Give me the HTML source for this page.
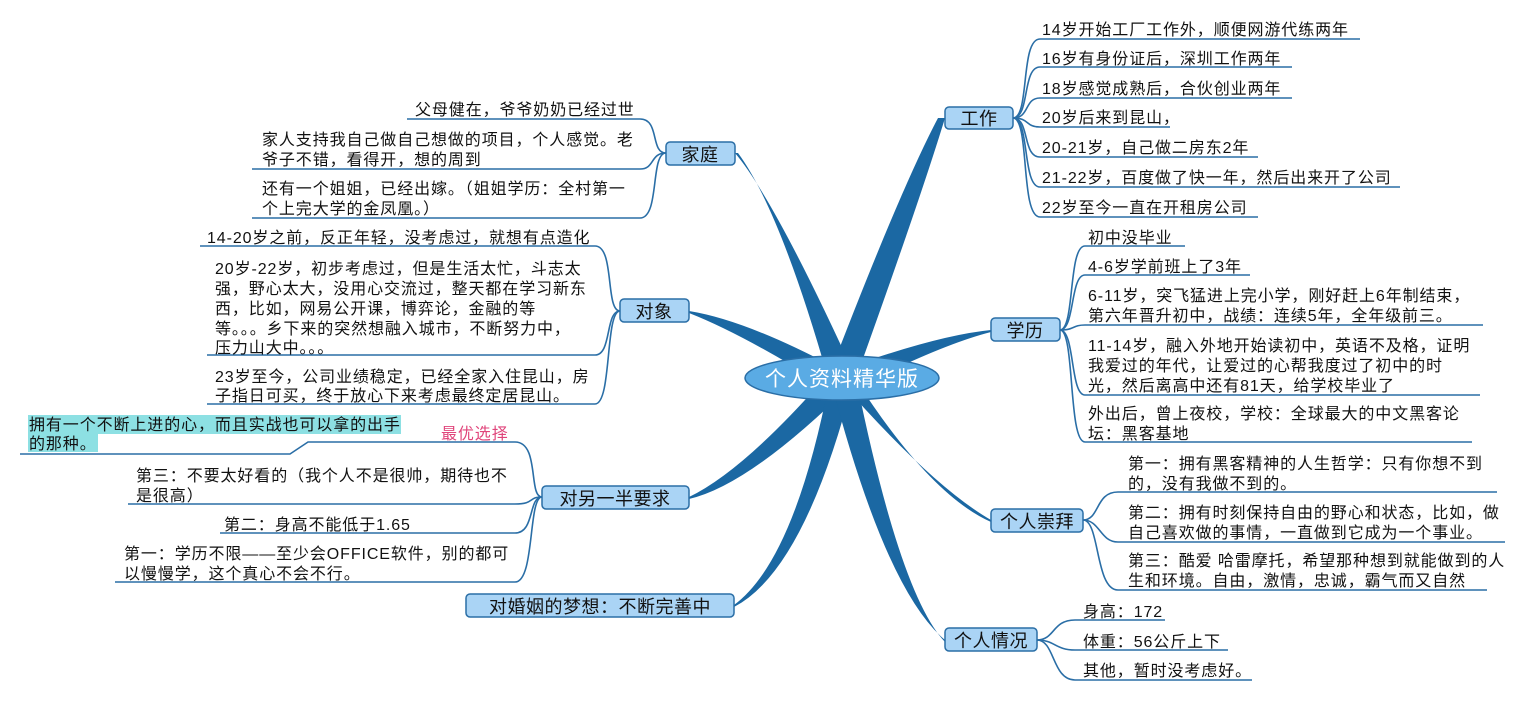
<!DOCTYPE html>
<html><head><meta charset="utf-8"><style>
body{margin:0;background:#fff;width:1538px;height:701px;overflow:hidden}
svg{display:block}
text{font-family:"Liberation Sans","Noto Sans CJK SC",sans-serif;font-size:16px;letter-spacing:0.9px;fill:#111}
.t{font-size:18px;letter-spacing:0.5px}
.ln{stroke:#2a6ea6;stroke-width:1.6;fill:none}
.nd{fill:#aad4f5;stroke:#2a6ea6;stroke-width:1.5}
.br{fill:#1b68a3}
</style></head><body>
<svg width="1538" height="701" viewBox="0 0 1538 701">
<path class="br" d="M828,378 Q900,190 938,118 L945,118 Q920,200 856,378Z"/>
<path class="br" d="M828,378 Q780,210 738,153 L735,153 Q775,200 856,378Z"/>
<path class="br" d="M832,366 Q745,320 689,311 L689,313 Q745,335 832,390Z"/>
<path class="br" d="M852,366 Q940,335 991,330 L991,332 Q940,345 852,390Z"/>
<path class="br" d="M830,372 Q745,470 689,497 L689,499 Q750,485 852,384Z"/>
<path class="br" d="M832,372 Q930,485 991,520 L991,522 Q930,495 856,380Z"/>
<path class="br" d="M830,378 Q795,560 734,605 L734,607 Q805,570 854,378Z"/>
<path class="br" d="M830,378 Q885,590 945,640 L945,642 Q900,595 856,378Z"/>
<ellipse cx="842" cy="378" rx="97" ry="22" fill="#5aabe4" stroke="#2a6ea6" stroke-width="1.5"/>
<text x="842" y="386" text-anchor="middle" style="font-size:21px;fill:#fff;letter-spacing:1px">个人资料精华版</text>

<g class="ln">
<path d="M1013,118 C1030,118 1020,39 1040,39 H1360"/>
<path d="M1013,118 C1030,118 1022,67 1040,67 H1292"/>
<path d="M1013,118 C1030,118 1024,98 1040,98 H1292"/>
<path d="M1013,118 C1030,118 1025,127 1040,127 H1170"/>
<path d="M1013,118 C1030,118 1022,157 1040,157 H1258"/>
<path d="M1013,118 C1030,118 1022,187 1040,187 H1400"/>
<path d="M1013,118 C1030,118 1020,217 1040,217 H1258"/>
</g>
<rect class="nd" x="945" y="107" width="68" height="22" rx="4"/>
<text class="t" x="979" y="125" text-anchor="middle">工作</text>
<text x="1042" y="35">14岁开始工厂工作外，顺便网游代练两年</text>
<text x="1042" y="64">16岁有身份证后，深圳工作两年</text>
<text x="1042" y="94">18岁感觉成熟后，合伙创业两年</text>
<text x="1042" y="123">20岁后来到昆山，</text>
<text x="1042" y="153">20-21岁，自己做二房东2年</text>
<text x="1042" y="183">21-22岁，百度做了快一年，然后出来开了公司</text>
<text x="1042" y="213">22岁至今一直在开租房公司</text>

<g class="ln">
<path d="M1060,330 C1075,330 1068,246 1085,246 H1185"/>
<path d="M1060,330 C1075,330 1070,275 1085,275 H1250"/>
<path d="M1060,330 C1075,330 1072,325 1085,325 H1483"/>
<path d="M1060,330 C1075,330 1070,395 1085,395 H1480"/>
<path d="M1060,330 C1075,330 1068,442 1085,442 H1472"/>
</g>
<rect class="nd" x="991" y="318" width="69" height="23" rx="4"/>
<text class="t" x="1025" y="337" text-anchor="middle">学历</text>
<text x="1088" y="243">初中没毕业</text>
<text x="1088" y="272">4-6岁学前班上了3年</text>
<text x="1088" y="301">6-11岁，突飞猛进上完小学，刚好赶上6年制结束，</text>
<text x="1088" y="321">第六年晋升初中，战绩：连续5年，全年级前三。</text>
<text x="1088" y="351">11-14岁，融入外地开始读初中，英语不及格，证明</text>
<text x="1088" y="371">我爱过的年代，让爱过的心帮我度过了初中的时</text>
<text x="1088" y="391">光，然后离高中还有81天，给学校毕业了</text>
<text x="1088" y="419">外出后，曾上夜校，学校：全球最大的中文黑客论</text>
<text x="1088" y="439">坛：黑客基地</text>

<g class="ln">
<path d="M1083,520 C1100,520 1095,492 1118,492 H1497"/>
<path d="M1083,520 C1100,520 1100,542 1118,542 H1505"/>
<path d="M1083,520 C1100,520 1095,590 1118,590 H1487"/>
</g>
<rect class="nd" x="991" y="509" width="92" height="23" rx="4"/>
<text class="t" x="1037" y="528" text-anchor="middle">个人崇拜</text>
<text x="1128" y="469">第一：拥有黑客精神的人生哲学：只有你想不到</text>
<text x="1128" y="489">的，没有我做不到的。</text>
<text x="1128" y="518">第二：拥有时刻保持自由的野心和状态，比如，做</text>
<text x="1128" y="538">自己喜欢做的事情，一直做到它成为一个事业。</text>
<text x="1128" y="566">第三：酷爱 哈雷摩托，希望那种想到就能做到的人</text>
<text x="1128" y="586">生和环境。自由，激情，忠诚，霸气而又自然</text>

<g class="ln">
<path d="M1037,640 C1055,640 1052,620 1075,620 H1165"/>
<path d="M1037,640 C1055,640 1055,650 1075,650 H1228"/>
<path d="M1037,640 C1055,640 1052,680 1075,680 H1252"/>
</g>
<rect class="nd" x="945" y="628" width="92" height="23" rx="4"/>
<text class="t" x="991" y="647" text-anchor="middle">个人情况</text>
<text x="1083" y="617">身高：172</text>
<text x="1083" y="647">体重：56公斤上下</text>
<text x="1083" y="676">其他，暂时没考虑好。</text>

<g class="ln">
<path d="M666,153 C650,153 660,119 640,119 H407"/>
<path d="M666,153 C650,153 655,169 640,169 H252"/>
<path d="M666,153 C650,153 660,218 640,218 H252"/>
</g>
<rect class="nd" x="666" y="142" width="69" height="23" rx="4"/>
<text class="t" x="700" y="161" text-anchor="middle">家庭</text>
<text x="415" y="115">父母健在，爷爷奶奶已经过世</text>
<text x="262" y="145">家人支持我自己做自己想做的项目，个人感觉。老</text>
<text x="262" y="165">爷子不错，看得开，想的周到</text>
<text x="262" y="194">还有一个姐姐，已经出嫁。（姐姐学历：全村第一</text>
<text x="262" y="214">个上完大学的金凤凰。）</text>

<g class="ln">
<path d="M620,311 C605,311 615,246 595,246 H200"/>
<path d="M620,311 C605,311 612,355 595,355 H207"/>
<path d="M620,311 C605,311 612,404 595,404 H207"/>
</g>
<rect class="nd" x="620" y="299" width="69" height="23" rx="4"/>
<text class="t" x="654" y="318" text-anchor="middle">对象</text>
<text x="207" y="243">14-20岁之前，反正年轻，没考虑过，就想有点造化</text>
<text x="215" y="274">20岁-22岁，初步考虑过，但是生活太忙，斗志太</text>
<text x="215" y="294">强，野心太大，没用心交流过，整天都在学习新东</text>
<text x="215" y="314">西，比如，网易公开课，博弈论，金融的等</text>
<text x="215" y="334">等。。。乡下来的突然想融入城市，不断努力中，</text>
<text x="215" y="353">压力山大中。。。</text>
<text x="215" y="382">23岁至今，公司业绩稳定，已经全家入住昆山，房</text>
<text x="215" y="401">子指日可买，终于放心下来考虑最终定居昆山。</text>

<g class="ln">
<path d="M542,497 C528,497 540,442 515,442 H308 L290,454 H20"/>
<path d="M542,497 C528,497 535,504 515,504 H128"/>
<path d="M542,497 C528,497 535,533 515,533 H220"/>
<path d="M542,497 C528,497 535,582 515,582 H115"/>
</g>
<rect x="28" y="415" width="373" height="19" fill="#8de0e3"/>
<rect x="28" y="434" width="70" height="18" fill="#8de0e3"/>
<text x="29" y="430">拥有一个不断上进的心，而且实战也可以拿的出手</text>
<text x="29" y="449">的那种。</text>
<text x="441" y="439" style="fill:#e0457b">最优选择</text>
<rect class="nd" x="542" y="486" width="147" height="23" rx="4"/>
<text class="t" x="615" y="505" text-anchor="middle">对另一半要求</text>
<text x="136" y="481">第三：不要太好看的（我个人不是很帅，期待也不</text>
<text x="136" y="501">是很高）</text>
<text x="224" y="530">第二：身高不能低于1.65</text>
<text x="124" y="559">第一：学历不限——至少会OFFICE软件，别的都可</text>
<text x="124" y="579">以慢慢学，这个真心不会不行。</text>

<rect class="nd" x="466" y="594" width="268" height="23" rx="4"/>
<text class="t" x="600" y="613" text-anchor="middle">对婚姻的梦想：不断完善中</text>
</svg>
</body></html>
